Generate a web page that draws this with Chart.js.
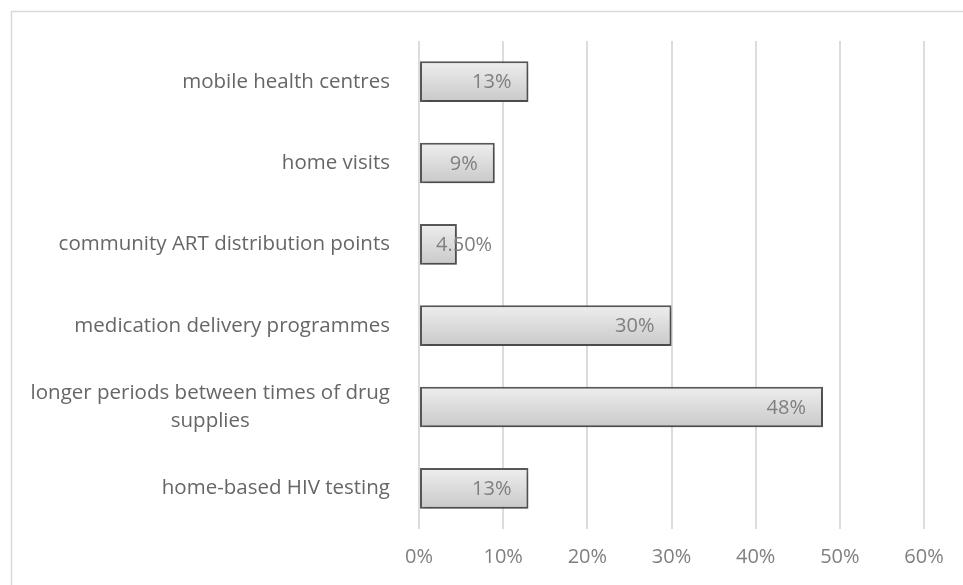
<!DOCTYPE html>
<html>
<head>
<meta charset="utf-8">
<script src="https://cdn.jsdelivr.net/npm/chart.js@4"></script>
<style>
html,body{margin:0;padding:0;background:#fff;overflow:hidden;}
#wrap{position:absolute;left:0;top:0;width:963px;height:585px;}
</style>
</head>
<body>
<div id="wrap"><canvas id="barChart"></canvas></div>
<script>
const categories=[
['mobile health centres'],
['home visits'],
['community ART distribution points'],
['medication delivery programmes'],
['longer periods between times of drug','supplies'],
['home-based HIV testing']
];
const values=[13,9,4.5,30,48,13];
const xTicks=[0,10,20,30,40,50,60];

const FONT='"Open Sans", "Liberation Sans", sans-serif';
const fmt=v=>(v%1?v.toFixed(2):v)+'%';

// outer chart frame, only top and left edges are in view
const frame={
id:'frame',
beforeDraw(chart){
const c=chart.ctx;c.save();
c.strokeStyle='#d9d9d9';c.lineWidth=1.5;
c.beginPath();c.moveTo(11.5,chart.height+5);c.lineTo(11.5,11.5);c.lineTo(chart.width+5,11.5);c.stroke();
c.restore();
}
};

// shadow under bars, like the excel style
const shadowPlugin={
id:'shadow',
beforeDatasetsDraw(chart){
const c=chart.ctx;c.save();
c.shadowColor='rgba(0,0,0,0.22)';c.shadowBlur=6;c.shadowOffsetX=2;c.shadowOffsetY=3;
},
afterDatasetsDraw(chart){chart.ctx.restore();}
};

// category labels: lines centred as a block, block right-aligned
const catLabels={
id:'catLabels',
afterDraw(chart){
const c=chart.ctx,y=chart.scales.y;
c.save();
c.font='20.5px '+FONT;c.fillStyle='#666';c.textAlign='center';c.textBaseline='middle';
categories.forEach((lines,i)=>{
const cy=y.getPixelForValue(i);
const w=Math.max(...lines.map(l=>c.measureText(l).width));
const cx=390-w/2,lh=28;
lines.forEach((l,j)=>c.fillText(l,cx,cy+(j-(lines.length-1)/2)*lh));
});
c.restore();
}
};

// value labels at inside end
const valLabels={
id:'valLabels',
afterDatasetsDraw(chart){
const c=chart.ctx,meta=chart.getDatasetMeta(0);
c.save();
c.font='20px '+FONT;c.fillStyle='#7f7f7f';c.textAlign='left';c.textBaseline='middle';
meta.data.forEach((bar,i)=>{
const t=fmt(values[i]),w=c.measureText(t).width;
const x=Math.max(bar.x-17-w,bar.base+16);
c.fillText(t,x,bar.y+1);
});
c.restore();
}
};

new Chart(document.getElementById('barChart'),{
type:'bar',
data:{labels:categories,datasets:[{
data:values,
backgroundColor:ctx=>{
const ch=ctx.chart,ys=ch.scales.y;
if(!ch.chartArea||!ys)return '#e0e0e0';
const cy=ys.getPixelForValue(ctx.dataIndex),h=ch.chartArea.height/categories.length*0.5;
const g=ch.ctx.createLinearGradient(0,cy-h/2,0,cy+h/2);
g.addColorStop(0,'#eeeeee');g.addColorStop(1,'#c9c9c9');
return g;
},
borderColor:'#595959',borderWidth:2,borderSkipped:false,
barPercentage:0.5,categoryPercentage:1
}]},
options:{
indexAxis:'y',responsive:true,maintainAspectRatio:false,animation:false,
layout:{padding:{top:41,right:39,left:0,bottom:0}},
plugins:{legend:{display:false},tooltip:{enabled:false}},
scales:{
x:{min:0,max:60,
afterBuildTicks:s=>{s.ticks=xTicks.map(v=>({value:v}));},
afterFit:s=>{s.height=56;},
grid:{color:'#dcdcdc',lineWidth:2,drawTicks:false},border:{display:false},
ticks:{padding:16,color:'#7f7f7f',font:{family:FONT,size:20},callback:v=>v+'%'}},
y:{afterFit:s=>{s.width=419;},
grid:{display:false},border:{display:false},ticks:{display:false}}
}
},
plugins:[frame,shadowPlugin,valLabels,catLabels]
});
</script>
</body>
</html>
